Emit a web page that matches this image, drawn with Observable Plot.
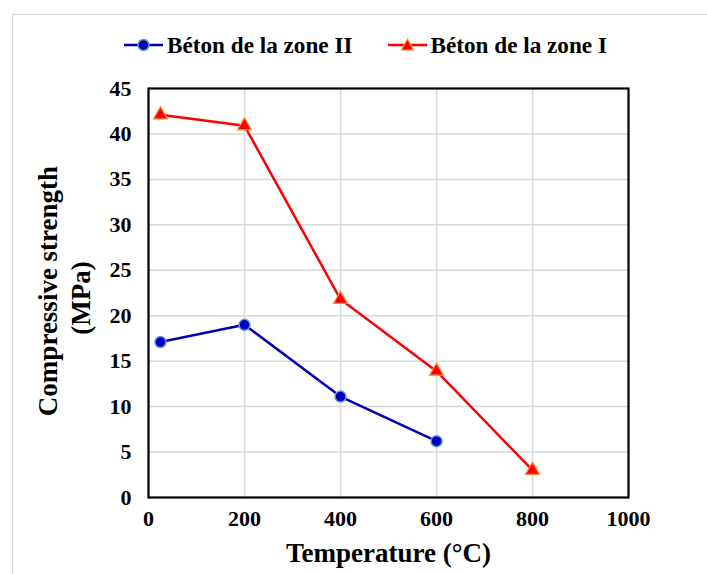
<!DOCTYPE html>
<html>
<head>
<meta charset="utf-8">
<script src="https://cdn.jsdelivr.net/npm/d3@7"></script>
<script src="https://cdn.jsdelivr.net/npm/@observablehq/plot@0.6"></script>
<style>
  body { margin: 0; background: #fff; }
  #wrap { position: relative; width: 707px; height: 574px; overflow: hidden; }
  #outer { position: absolute; left: 12px; top: 14px; width: 720px; height: 600px; border: 1px solid #d9d9d9; box-sizing: border-box; }
  #legend { position: absolute; top: 30px; left: 124px; display: flex; gap: 35px; white-space: nowrap;
            font-family: "Liberation Serif", "Times New Roman", serif; font-weight: bold; font-size: 23.2px; line-height: 30px; color: #000; }
  .item { display: flex; align-items: center; gap: 4px; }
  #chart { position: absolute; left: 0; top: 0; }
</style>
</head>
<body>
<div id="wrap">
  <div id="outer"></div>
  <div id="chart"></div>
  <div id="legend">
    <div class="item">
      <svg width="39" height="16"><line x1="0" y1="8" x2="39" y2="8" stroke="#0000b0" stroke-width="2.5"/><circle cx="19.5" cy="8" r="5.5" fill="#0000c0" stroke="#5b9bd5" stroke-width="1.5"/></svg>
      <span>Béton de la zone II</span>
    </div>
    <div class="item">
      <svg width="39" height="16"><line x1="0" y1="8" x2="39" y2="8" stroke="#ff0000" stroke-width="2.5"/><path d="M19.5,2 L25.5,13 L13.5,13 Z" fill="#ff0000" stroke="#ff8c3a" stroke-width="1.2"/></svg>
      <span>Béton de la zone I</span>
    </div>
  </div>
</div>
<script>
const temps = [25, 200, 400, 600, 800];
const zoneI = [42.1, 40.9, 21.8, 13.9, 3.0];
const zoneIIx = [25, 200, 400, 600];
const zoneII = [17.1, 19.0, 11.1, 6.2];
const xTicks = [0, 200, 400, 600, 800, 1000];
const yTicks = [0, 5, 10, 15, 20, 25, 30, 35, 40, 45];

const dI = temps.map((t, i) => ({t, v: zoneI[i]}));
const dII = zoneIIx.map((t, i) => ({t, v: zoneII[i]}));

const font = '"Liberation Serif", "Times New Roman", serif';

const chart = Plot.plot({
  width: 707,
  height: 574,
  marginLeft: 148,
  marginRight: 79,
  marginTop: 88,
  marginBottom: 77,
  style: { fontFamily: font, fontWeight: "bold", fontSize: "22px", color: "#000", background: "transparent" },
  x: { domain: [0, 1000], ticks: xTicks, label: null },
  y: { domain: [0, 45], ticks: yTicks, label: null },
  marks: [
    Plot.gridX(xTicks.filter(d => d > 0 && d < 1000), { stroke: "#d9d9d9", strokeOpacity: 1, strokeWidth: 1.5 }),
    Plot.gridY(yTicks.filter(d => d > 0 && d < 45), { stroke: "#d9d9d9", strokeOpacity: 1, strokeWidth: 1.5 }),
    Plot.axisX({ ticks: xTicks, tickSize: 0, tickPadding: 13, fontSize: 22, fontWeight: "bold", fill: "#000", tickFormat: d => String(d) }),
    Plot.axisY({ ticks: yTicks, tickSize: 0, tickPadding: 17, fontSize: 22, fontWeight: "bold", fill: "#000", tickFormat: d => String(d) }),
    Plot.frame({ stroke: "#000", strokeWidth: 2.2 }),
    Plot.line(dII, { x: "t", y: "v", stroke: "#0000b0", strokeWidth: 2.5 }),
    Plot.line(dI, { x: "t", y: "v", stroke: "#ff0000", strokeWidth: 2.5 }),
    Plot.dot(dII, { x: "t", y: "v", r: 5.5, fill: "#0000c0", stroke: "#5b9bd5", strokeWidth: 1.5, symbol: "circle" }),
    Plot.dot(dI, { x: "t", y: "v", r: 5.2, fill: "#ff0000", stroke: "#ff8c3a", strokeWidth: 1.2, symbol: "triangle" }),
    Plot.text(["Temperature (°C)"], { frameAnchor: "bottom", dy: 64, text: d => d, fontSize: 27, fontWeight: "bold", fill: "#000", textAnchor: "middle" }),
    Plot.text(["Compressive strength"], { frameAnchor: "left", dx: -100, dy: -2, rotate: -90, text: d => d, fontSize: 27, fontWeight: "bold", fill: "#000", textAnchor: "middle" }),
    Plot.text(["(MPa)"], { frameAnchor: "left", dx: -67, dy: 5, rotate: -90, text: d => d, fontSize: 27, fontWeight: "bold", fill: "#000", textAnchor: "middle" })
  ]
});
document.getElementById("chart").appendChild(chart);
</script>
</body>
</html>
